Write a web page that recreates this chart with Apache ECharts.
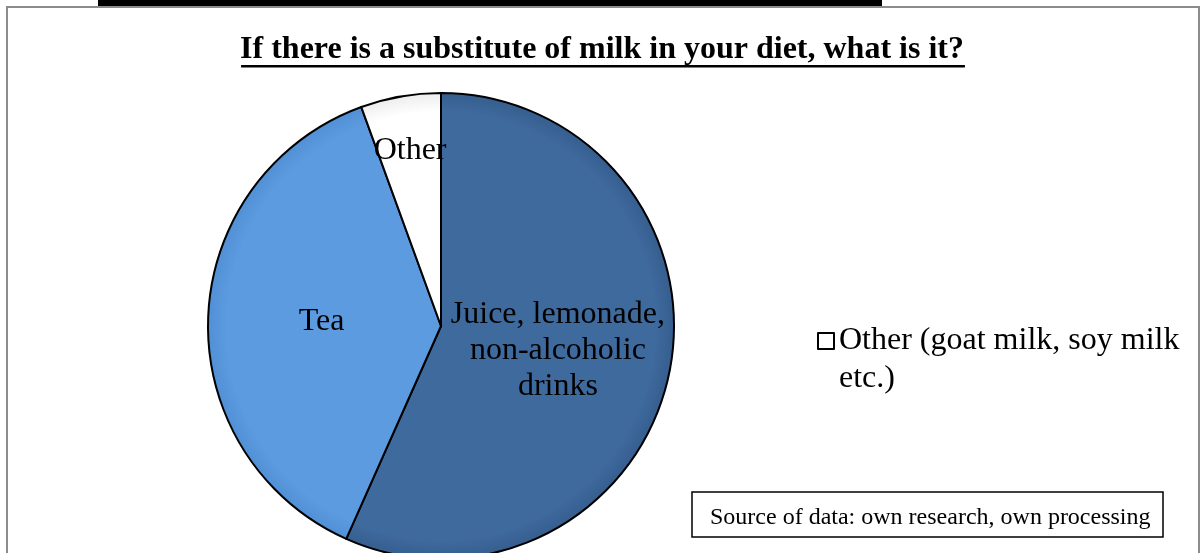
<!DOCTYPE html>
<html>
<head>
<meta charset="utf-8">
<title>Substitute of milk</title>
<script src="https://cdn.jsdelivr.net/npm/echarts@6/dist/echarts.min.js"></script>
<style>
  html, body { margin: 0; padding: 0; background: #fff; }
  #chart { width: 1204px; height: 553px; }
</style>
</head>
<body>
<div id="chart"></div>
<script>
// Survey answers: substitute of milk in the diet
const categories = ['Juice, lemonade,\nnon-alcoholic\ndrinks', 'Tea', 'Other'];
const respondents = [51, 34, 5];
const legendNames = ['Other'];
const legendText = 'Other (goat milk, soy milk\netc.)';
const chartTitle = 'If there is a substitute of milk in your diet, what is it?';
const sourceNote = 'Source of data: own research, own processing';

const SERIF = '"Liberation Serif", "Times New Roman", serif';
const CX = 441, CY = 326, R = 233;
const baseColors = ['#3F6A9E', '#5C9BE0', '#FFFFFF'];
const rimColors = ['#365E8F', '#5290D6', '#EDEDED'];

function shaded(i) {
  return {
    type: 'radial', x: CX, y: CY, r: R, global: true,
    colorStops: [
      { offset: 0, color: baseColors[i] },
      { offset: 0.92, color: baseColors[i] },
      { offset: 1, color: rimColors[i] }
    ]
  };
}

const pieData = categories.map((name, i) => ({
  name,
  value: respondents[i],
  itemStyle: { color: shaded(i) }
}));

// width of the title text, for its underline
const ctx = document.createElement('canvas').getContext('2d');
ctx.font = 'bold 32px ' + SERIF;
const titleW = ctx.measureText(chartTitle).width;

const chart = echarts.init(document.getElementById('chart'), null, { renderer: 'canvas' });
chart.setOption({
  animation: false,
  backgroundColor: '#fff',
  title: [{
    text: chartTitle,
    left: 'center',
    top: 32,
    padding: 0,
    textStyle: { fontFamily: SERIF, fontSize: 32, fontWeight: 'bold', color: '#000', lineHeight: 36 }
  }, {
    text: sourceNote,
    left: 692,
    top: 492,
    padding: [12, 13, 6, 18],
    borderColor: '#000',
    borderWidth: 1.5,
    backgroundColor: '#fff',
    textStyle: { fontFamily: SERIF, fontSize: 24, fontWeight: 'normal', color: '#000', lineHeight: 27 }
  }],
  legend: {
    data: legendNames,
    left: 817,
    top: 284,
    padding: 0,
    orient: 'vertical',
    icon: 'rect',
    itemWidth: 16,
    itemHeight: 16,
    itemGap: 0,
    selectedMode: false,
    // leading blank line keeps the first text line level with the marker
    formatter: () => '\n' + legendText,
    itemStyle: { color: '#fff', borderColor: '#000', borderWidth: 2 },
    textStyle: { fontFamily: SERIF, fontSize: 32, color: '#000', lineHeight: 38 }
  },
  graphic: [
    { type: 'rect', z: -1, shape: { x: 7, y: 7, width: 1192, height: 580 },
      style: { fill: 'none', stroke: '#8C8C8C', lineWidth: 2 } },
    { type: 'rect', shape: { x: 98, y: 0, width: 784, height: 6 }, style: { fill: '#000' } },
    { type: 'rect', shape: { x: 603 - titleW / 2, y: 65, width: titleW, height: 2.5 }, style: { fill: '#000' } }
  ],
  series: [{
    type: 'pie',
    center: [CX, CY],
    radius: [0, R],
    startAngle: 90,
    clockwise: true,
    silent: true,
    itemStyle: { borderColor: '#000', borderWidth: 2 },
    label: {
      show: true,
      position: 'inside',
      formatter: p => (p.name === 'Other' ? '' : p.name),
      fontFamily: SERIF, fontSize: 32, lineHeight: 36, color: '#000', align: 'center'
    },
    labelLine: { show: false },
    emphasis: { disabled: true },
    data: pieData
  }, {
    // label layer for the narrow slice, placed farther out along its mid angle
    type: 'pie',
    center: [CX, CY],
    radius: [0, 350],
    startAngle: 90,
    clockwise: true,
    silent: true,
    z: 3,
    itemStyle: { color: 'rgba(0,0,0,0)', borderWidth: 0 },
    label: {
      show: true,
      position: 'inside',
      formatter: p => (p.name === 'Other' ? 'Other' : ''),
      fontFamily: SERIF, fontSize: 32, color: '#000'
    },
    labelLine: { show: false },
    emphasis: { disabled: true },
    data: categories.map((name, i) => ({ name, value: respondents[i] }))
  }]
});
</script>
</body>
</html>
